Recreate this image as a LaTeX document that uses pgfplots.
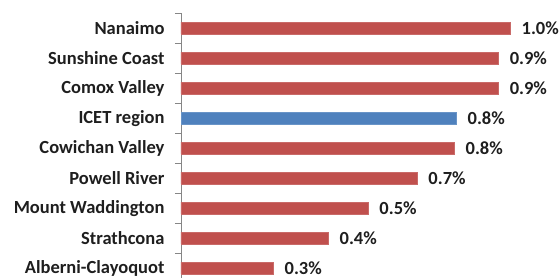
\documentclass[border=0pt]{standalone}
\usepackage{pgfplots}
\pgfplotsset{compat=1.18}
\usepackage{fontspec}
\setmainfont{Carlito}
\definecolor{barred}{RGB}{192,80,77}
\definecolor{barblue}{RGB}{79,129,189}
\definecolor{axgray}{RGB}{134,134,134}
\definecolor{txt}{RGB}{30,30,30}
\begin{document}
\begin{tikzpicture}
\path[use as bounding box] (0,0) rectangle (560pt,278pt);
\begin{axis}[
  anchor=south west, at={(181pt,0pt)},
  scale only axis, width=362pt, height=264.9pt,
  xmin=0, xmax=1.1, ymin=-0.33, ymax=8.5,
  xbar, bar width=12pt, bar shift=0pt,
  axis x line=none,
  axis y line*=left,
  y axis line style={axgray, line width=0.8pt},
  ytick={0,...,8},
  yticklabels={Alberni-Clayoquot,Strathcona,Mount Waddington,Powell River,Cowichan Valley,ICET region,Comox Valley,Sunshine Coast,Nanaimo},
  major tick length=0pt,
  minor ytick={-0.5,0.5,1.5,2.5,3.5,4.5,5.5,6.5,7.5,8.5},
  minor tick length=6pt, tick align=outside,
  minor tick style={axgray, line width=0.8pt},
  yticklabel style={font=\fontsize{18.5}{22}\selectfont\bfseries, text=txt, xshift=-13pt},
  point meta=explicit symbolic,
  nodes near coords,
  nodes near coords style={font=\fontsize{18.5}{22}\selectfont\bfseries, text=txt, anchor=west, xshift=8pt},
  clip=false,
]
\addplot[fill=barred, draw=barred!85!white] coordinates {
  (0.280,0) [0.3\%]
  (0.447,1) [0.4\%]
  (0.568,2) [0.5\%]
  (0.717,3) [0.7\%]
  (0.830,4) [0.8\%]
  (0.964,6) [0.9\%]
  (0.964,7) [0.9\%]
  (1.000,8) [1.0\%]
};
\addplot[fill=barblue, draw=barblue!85!white] coordinates {
  (0.836,5) [0.8\%]
};
\end{axis}
\end{tikzpicture}
\end{document}
